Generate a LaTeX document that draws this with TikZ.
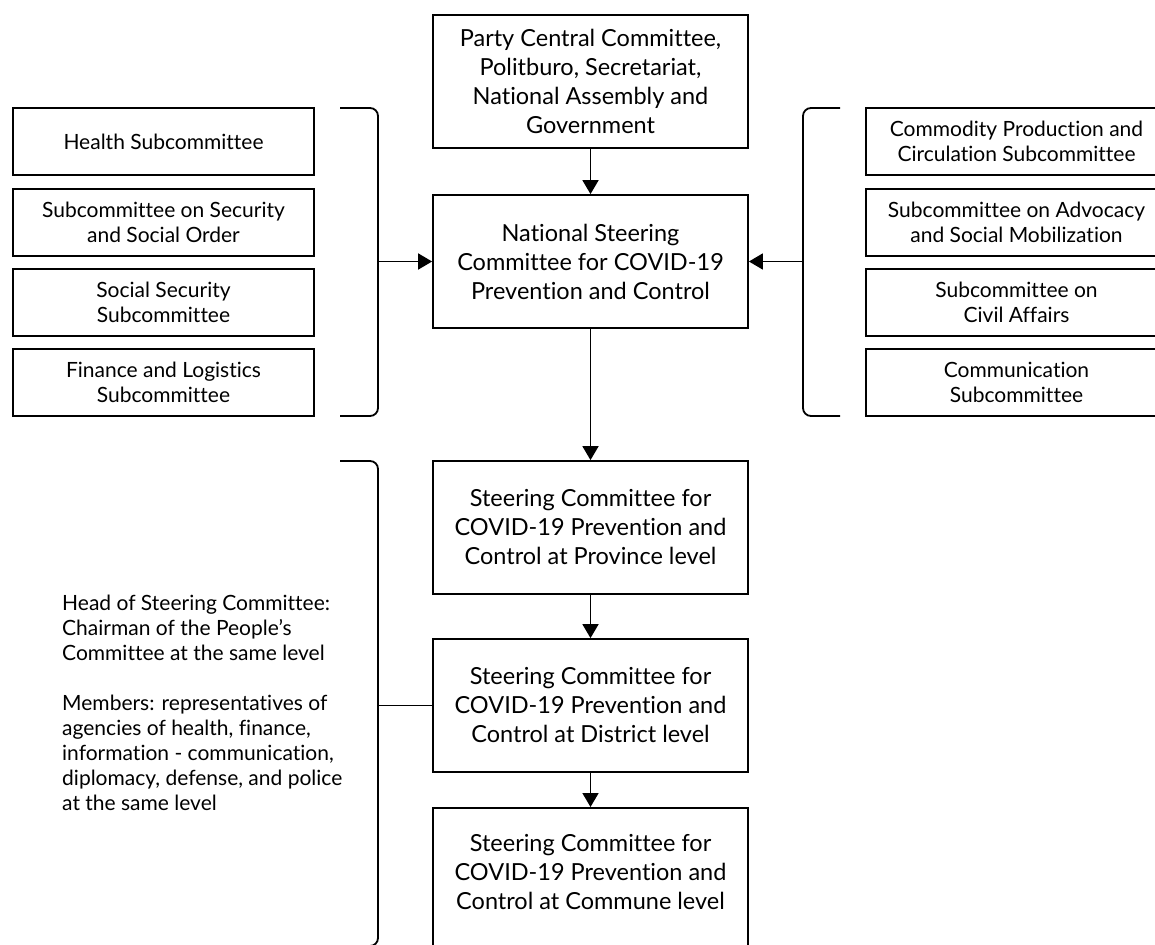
\documentclass[tikz,border=0pt]{standalone}
\usepackage{fontspec}
\setmainfont{Lato}[Ligatures=NoCommon]
\usetikzlibrary{arrows.meta}
\tikzset{
  board/.style = {rectangle, draw, line width=1.8pt, minimum width=315pt, minimum height=133pt, inner sep=0, align=center, font=\fontsize{23.5}{29}\selectfont},
  subc/.style  = {rectangle, draw, line width=1.8pt, minimum width=301pt, minimum height=67pt, inner sep=0, align=center, font=\fontsize{21}{25}\selectfont},
  note/.style  = {anchor=west, inner sep=0, align=left, font=\fontsize{21}{25}\selectfont},
  link/.style  = {line width=1.8pt}, brace/.style = {link, rounded corners=8pt},
  arr/.style   = {link, -{Triangle[length=14pt,width=16pt]}}
}
\begin{document}
\begin{tikzpicture}[x=1pt,y=-1pt]
  \useasboundingbox (0,0) rectangle (1155,944);
  \clip (0,0) rectangle (1155,944);
  % central chain
  \node[board] (top)  at (590.5, 81.5) {Party Central Committee,\\Politburo, Secretariat,\\National Assembly and\\Government};
  \node[board] (nsc)  at (590.5,261.5) {National Steering\\Committee for COVID-19\\Prevention and Control};
  \node[board] (prov) at (590.5,527.5) {Steering Committee for\\COVID-19 Prevention and\\Control at Province level};
  \node[board] (dist) at (590.5,705.5) {Steering Committee for\\COVID-19 Prevention and\\Control at District level};
  \node[board, anchor=north, minimum height=150pt] (comm) at (590.5,807) {\begin{tabular}{@{}c@{}}Steering Committee for\\COVID-19 Prevention and\\Control at Commune level\\[16pt]\end{tabular}};
  \draw[arr] (top) -- (nsc); \draw[arr] (nsc) -- (prov);
  \draw[arr] (prov) -- (dist); \draw[arr] (dist) -- (comm);
  % left subcommittees
  \node[subc] (hlth) at (163.5,141.5) {Health Subcommittee};
  \node[subc] (secu) at (163.5,222.5) {Subcommittee on Security\\and Social Order};
  \node[subc] (soc)  at (163.5,302.5) {Social Security\\Subcommittee};
  \node[subc] (fin)  at (163.5,382.5) {Finance and Logistics\\Subcommittee};
  \draw[brace] (340,108) -- (378,108) -- (378,416) -- (340,416);
  \coordinate (lb) at (378,261.5); \draw[arr] (lb) -- (nsc);
  % right subcommittees
  \node[subc] (comd) at (1016.5,141.5) {Commodity Production and\\Circulation Subcommittee};
  \node[subc] (advo) at (1016.5,222.5) {Subcommittee on Advocacy\\and Social Mobilization};
  \node[subc] (civ)  at (1016.5,302.5) {Subcommittee on\\Civil Affairs};
  \node[subc] (comu) at (1016.5,382.5) {Communication\\Subcommittee};
  \draw[brace] (840,108) -- (803,108) -- (803,416) -- (840,416);
  \coordinate (rb) at (803,261.5); \draw[arr] (rb) -- (nsc);
  % local levels
  \draw[brace] (340,461) -- (378,461) -- (378,946) -- (340,946);
  \coordinate (bb) at (378,705.5); \draw[link] (bb) -- (dist);
  \node[note] (memb) at (62,703) {Head of Steering Committee:\\Chairman of the People’s\\Committee at the same level\\[25pt]Members: representatives of\\agencies of health, finance,\\information - communication,\\diplomacy, defense, and police\\at the same level};
\end{tikzpicture}
\end{document}
